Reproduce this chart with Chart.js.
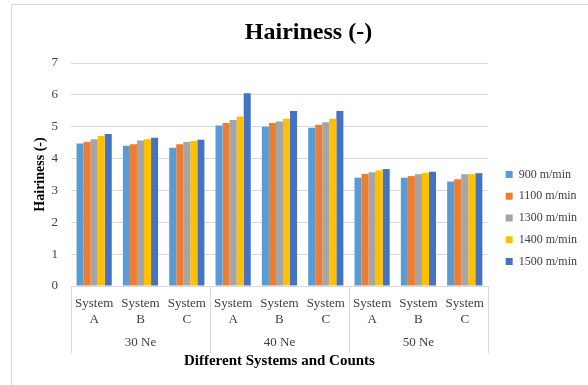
<!DOCTYPE html>
<html>
<head>
<meta charset="utf-8">
<script src="https://cdn.jsdelivr.net/npm/chart.js@4"></script>
<style>
  html, body { margin: 0; padding: 0; background: #fff; overflow: hidden; }
  #wrap { position: absolute; left: 0; top: 0; width: 588px; height: 385px; }
</style>
</head>
<body>
<div id="wrap"><canvas id="c" width="588" height="385"></canvas></div>
<script>
// Categories: spinning system within each yarn count
const systems = [
  ["System", "A"], ["System", "B"], ["System", "C"],
  ["System", "A"], ["System", "B"], ["System", "C"],
  ["System", "A"], ["System", "B"], ["System", "C"]
];
const counts = ["30 Ne", "40 Ne", "50 Ne"];
const speeds = ["900 m/min", "1100 m/min", "1300 m/min", "1400 m/min", "1500 m/min"];

// Hairiness per delivery speed
const hair900  = [4.47, 4.40, 4.34, 5.04, 5.00, 4.97, 3.40, 3.40, 3.28];
const hair1100 = [4.53, 4.45, 4.45, 5.12, 5.12, 5.06, 3.52, 3.45, 3.35];
const hair1300 = [4.61, 4.57, 4.52, 5.21, 5.16, 5.14, 3.57, 3.51, 3.51];
const hair1400 = [4.71, 4.61, 4.55, 5.32, 5.25, 5.25, 3.63, 3.55, 3.51];
const hair1500 = [4.77, 4.65, 4.59, 6.05, 5.49, 5.49, 3.67, 3.59, 3.54];

const yTicks = [0, 1, 2, 3, 4, 5, 6, 7];

const series = [hair900, hair1100, hair1300, hair1400, hair1500];
const colors = ['#5B9BD5', '#ED7D31', '#A5A5A5', '#FFC000', '#4472C4'];
const SERIF = "'Liberation Serif', 'DejaVu Serif', serif";
const LINE = '#d9d9d9';

// Frame around the chart and separators between count groups under the axis
const groupLines = {
  id: 'groupLines',
  beforeDraw(chart) {
    const ctx = chart.ctx;
    ctx.save();
    ctx.strokeStyle = LINE;
    ctx.lineWidth = 1;
    ctx.strokeRect(11.5, 4.5, 800, 600);
    ctx.restore();
  },
  afterDraw(chart) {
    const x = chart.scales.x, x2 = chart.scales.x2, area = chart.chartArea;
    const ctx = chart.ctx;
    const per = systems.length / counts.length;
    const xs = [area.left];
    for (let g = 1; g < counts.length; g++) {
      const i = g * per;
      xs.push((x.getPixelForValue(i - 1) + x.getPixelForValue(i)) / 2);
    }
    xs.push(area.right);
    ctx.save();
    ctx.strokeStyle = LINE;
    ctx.lineWidth = 1;
    ctx.beginPath();
    xs.forEach(px => {
      const p = Math.round(px) + 0.5;
      ctx.moveTo(p, area.bottom);
      ctx.lineTo(p, x2.top + 27);
    });
    ctx.stroke();
    ctx.restore();
  }
};

new Chart(document.getElementById('c'), {
  type: 'bar',
  data: {
    labels: systems,
    datasets: speeds.map((s, k) => ({
      label: s,
      data: series[k],
      backgroundColor: colors[k],
      borderWidth: 0,
      categoryPercentage: 0.76,
      barPercentage: 1.0
    }))
  },
  options: {
    responsive: false,
    devicePixelRatio: 1,
    animation: false,
    layout: { padding: { left: 30, top: 5, right: 1, bottom: 15 } },
    plugins: {
      title: {
        display: true,
        text: 'Hairiness (-)',
        color: '#000',
        font: { family: SERIF, size: 24, weight: 'bold' },
        padding: { top: 13, bottom: 16.2 }
      },
      legend: {
        position: 'right',
        title: {
          display: true,
          text: ' ',
          font: { family: SERIF, size: 12, lineHeight: 1.2 },
          padding: { top: 46.6, bottom: 0 }
        },
        labels: {
          color: '#404040',
          font: { family: SERIF, size: 12 },
          boxWidth: 7,
          boxHeight: 7,
          padding: 9.75
        }
      },
      tooltip: { enabled: false }
    },
    scales: {
      x: {
        type: 'category',
        afterFit(scale) { scale.height = 40; },
        grid: { display: false, drawTicks: false, tickLength: 0 },
        border: { display: true, color: LINE },
        ticks: {
          color: '#404040',
          font: { family: SERIF, size: 13, lineHeight: 1.23 },
          maxRotation: 0,
          autoSkip: false,
          padding: 10
        }
      },
      x2: {
        type: 'category',
        position: 'bottom',
        labels: counts,
        offset: true,
        afterFit(scale) { scale.height = 44; },
        grid: { display: false, drawTicks: false, tickLength: 0 },
        border: { display: false },
        ticks: {
          color: '#404040',
          font: { family: SERIF, size: 13, lineHeight: 1.23 },
          maxRotation: 0,
          padding: 9
        },
        title: {
          display: true,
          text: 'Different Systems and Counts',
          color: '#000',
          font: { family: SERIF, size: 15, weight: 'bold', lineHeight: 1.2 },
          padding: { top: 1, bottom: 0 }
        }
      },
      y: {
        min: yTicks[0],
        max: yTicks[yTicks.length - 1],
        afterBuildTicks(scale) { scale.ticks = yTicks.map(v => ({ value: v })); },
        afterFit(scale) { scale.width = 41; },
        grid: { color: LINE, drawTicks: false },
        border: { display: false },
        ticks: {
          color: '#404040',
          font: { family: SERIF, size: 13 },
          padding: 13
        },
        title: {
          display: true,
          text: 'Hairiness (-)',
          color: '#000',
          font: { family: SERIF, size: 14, weight: 'bold', lineHeight: 1.2 },
          padding: { top: 1.6, bottom: 0 }
        }
      },
      gap: {
        type: 'linear',
        position: 'right',
        grid: { display: false, drawTicks: false },
        border: { display: false },
        ticks: { display: false },
        afterFit(scale) { scale.width = 8; }
      }
    }
  },
  plugins: [groupLines]
});
</script>
</body>
</html>
